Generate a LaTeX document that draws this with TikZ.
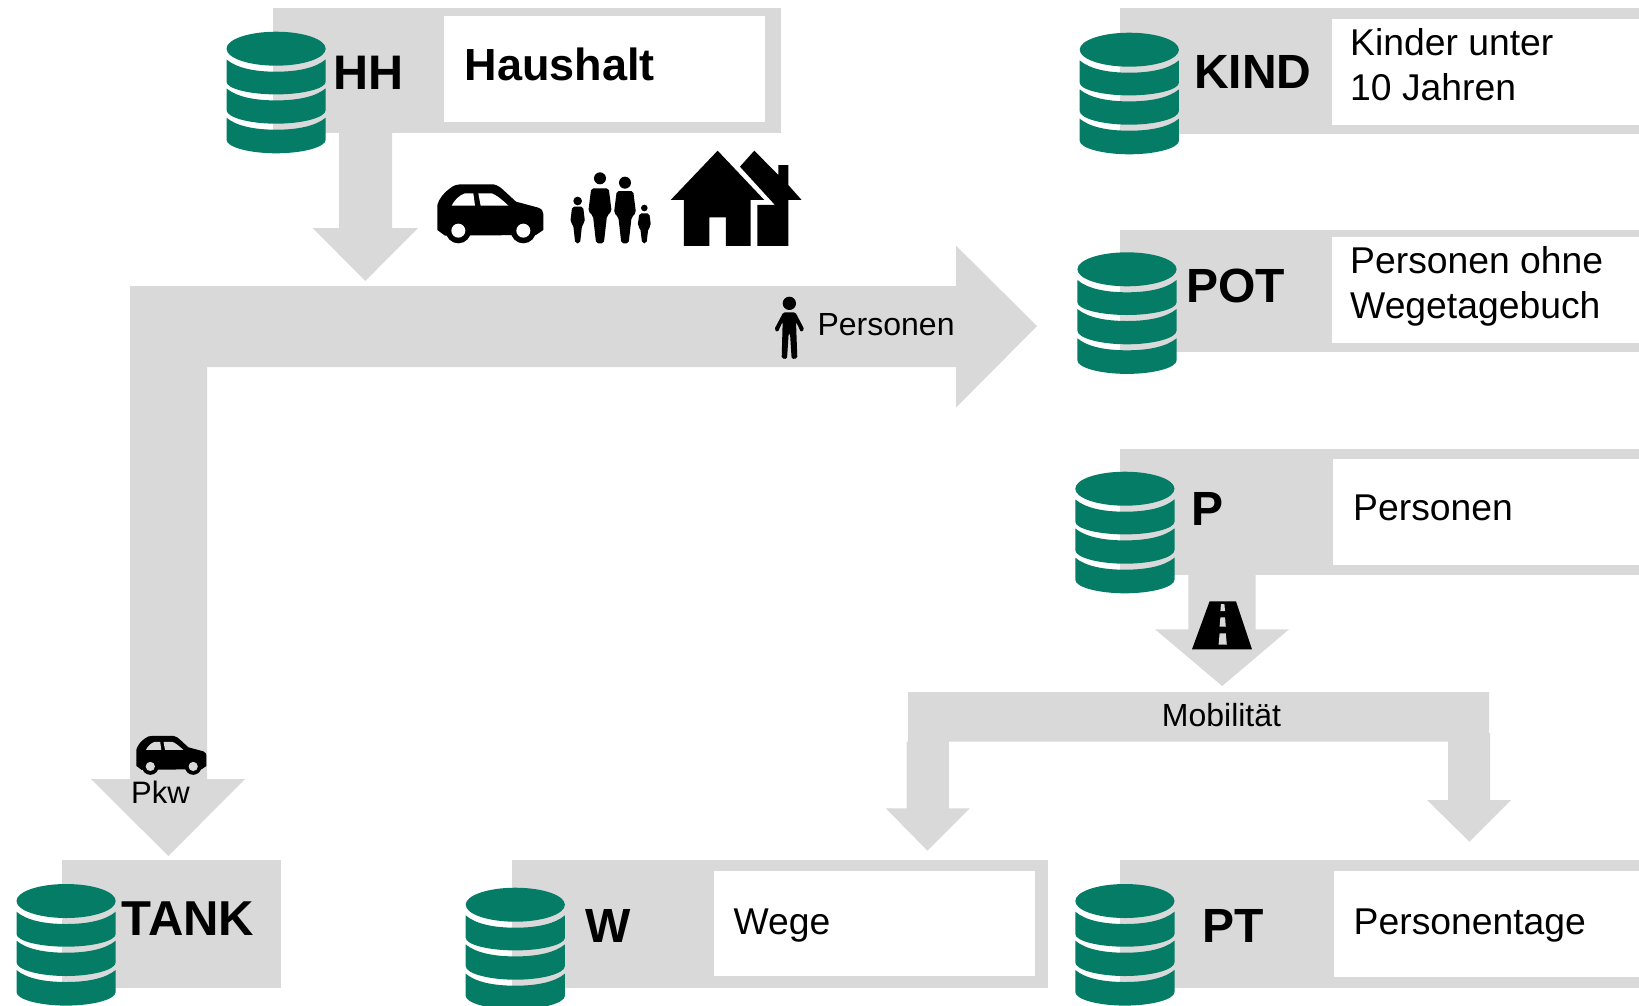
\documentclass[tikz,border=0pt]{standalone}
\usepackage{fontspec}
\setmainfont{Liberation Sans}
\definecolor{panelgray}{HTML}{D9D9D9}
\definecolor{dbgreen}{HTML}{057C66}
\tikzset{
  x=1pt,y=-1pt,
  panel/.style={fill=panelgray,draw=none,inner sep=0,outer sep=0,anchor=north west},
  whitebox/.style={fill=white,draw=none,inner sep=0,outer sep=0,anchor=north west},
  blockarrow/.style={fill=panelgray,draw=none},
  keytext/.style={inner sep=0,anchor=base west,font=\bfseries\fontsize{48}{58}\selectfont},
  desctext/.style={inner sep=0,anchor=base west,font=\fontsize{37.3}{44.8}\selectfont,align=left},
  smalltext/.style={inner sep=0,anchor=base west,font=\fontsize{32}{38}\selectfont},
  icon/.style={fill=black,draw=none},
  db/.pic={
    \fill[dbgreen] (49.6,17) ellipse [x radius=49.6,y radius=17];
    \foreach \t/\b/\st/\sb in {27.7/50/12.3/12.7,56.7/78.3/12/13.7,86/108/12/13.6}{
      \fill[dbgreen] (0,\t) .. controls (10,\t+0.7*\st) and (28,\t+\st) .. (49.6,\t+\st)
        .. controls (71,\t+\st) and (89,\t+0.7*\st) .. (99.2,\t)
        -- (99.2,\b) .. controls (99.2,\b+0.55*\sb) and (76,\b+\sb) .. (49.6,\b+\sb)
        .. controls (23,\b+\sb) and (0,\b+0.55*\sb) .. (0,\b) -- cycle;
    }
  }
}
\newcommand{\caricon}[4]{%
  \begin{scope}[shift={(#1,#2)},scale=#3]
    \fill[icon] (75,317) -- (52,300) -- (52,225) .. controls (58,205) and (70,190) .. (90,175)
      .. controls (100,166) and (112,163) .. (125,163) -- (220,163)
      .. controls (232,165) and (242,172) .. (250,180) -- (288,215) -- (355,233)
      .. controls (366,237) and (370,245) .. (370,252) -- (370,300) -- (348,315) -- cycle;
    \fill[icon] (115,302) circle [radius=38];
    \fill[icon] (310,302) circle [radius=38];
    \fill[#4] (115,302) circle [radius=21];
    \fill[#4] (310,302) circle [radius=21];
    \fill[#4] (95,227) .. controls (102,212) and (118,195) .. (135,190) -- (160,190) -- (165,227) -- cycle;
    \fill[#4] (182,227) -- (175,190) -- (215,190) .. controls (228,194) and (250,212) .. (265,227) -- cycle;
  \end{scope}%
}
\newcommand{\figicon}[6]{% cx top hw bottom headcy headr
  \fill[icon] (#1,#5) circle [radius=#6];
  \fill[icon,rounded corners=2pt] (#1-0.75*#3,#2) -- (#1+0.75*#3,#2) -- (#1+#3,{#2+0.42*(#4-#2)})
    -- (#1+0.6*#3,{#2+0.5*(#4-#2)}) -- (#1+0.33*#3,#4) -- (#1-0.33*#3,#4)
    -- (#1-0.6*#3,{#2+0.5*(#4-#2)}) -- (#1-#3,{#2+0.42*(#4-#2)}) -- cycle;
}
\begin{document}
\begin{tikzpicture}
\useasboundingbox (0,0) rectangle (1639,1005);
\clip (0,0) rectangle (1639,1005);

% block arrows
\fill[blockarrow] (339,133) -- (392,133) -- (392,228) -- (418,228) -- (365.3,281) -- (312.7,228) -- (339,228) -- cycle;
\fill[blockarrow] (130,286) -- (956,286) -- (956,245.6) -- (1037,326) -- (956,407.6) -- (956,367) -- (207,367)
  -- (207,779) -- (245,779) -- (168.4,856) -- (91,779) -- (130,779) -- cycle;
\fill[blockarrow] (1188.3,575) -- (1255.5,575) -- (1255.5,629.3) -- (1289,629.3) -- (1222.2,686) -- (1155,629.3) -- (1188.3,629.3) -- cycle;
\fill[blockarrow] (908,692) -- (1489,692) -- (1489,733) -- (1490,733) -- (1490,800) -- (1511,800) -- (1469.4,841.7)
  -- (1427,800) -- (1448,800) -- (1448,741.7) -- (948.8,741.7) -- (948.8,808.3) -- (969.7,808.3) -- (927.5,850.7)
  -- (885.8,808.3) -- (906.7,808.3) -- (906.7,741.7) -- (908,741.7) -- cycle;

% panels
\node[panel,minimum width=508,minimum height=125] (hhPanel) at (273,8) {};
\node[whitebox,minimum width=321,minimum height=106] (hhBox) at (444,16) {};
\node[panel,minimum width=519,minimum height=126] (kindPanel) at (1120,8) {};
\node[whitebox,minimum width=307,minimum height=106] (kindBox) at (1332,19) {};
\node[panel,minimum width=519,minimum height=121.7] (potPanel) at (1120,230) {};
\node[whitebox,minimum width=307,minimum height=105.7] (potBox) at (1332,237) {};
\node[panel,minimum width=519,minimum height=126] (pPanel) at (1120,449) {};
\node[whitebox,minimum width=306,minimum height=106] (pBox) at (1333,459) {};
\node[panel,minimum width=219,minimum height=127.7] (tankPanel) at (62,860) {};
\node[panel,minimum width=536,minimum height=127.7] (wPanel) at (512,860) {};
\node[whitebox,minimum width=321,minimum height=105] (wBox) at (714,871) {};
\node[panel,minimum width=519,minimum height=127.7] (ptPanel) at (1120,860) {};
\node[whitebox,minimum width=305.5,minimum height=106] (ptBox) at (1333.5,871) {};

% database icons
\pic (dbHH) at (226.5,31.7) {db};
\pic (dbKIND) at (1079.7,32.7) {db};
\pic (dbPOT) at (1077.4,252.3) {db};
\pic (dbP) at (1075.3,471.7) {db};
\pic (dbTANK) at (16.5,884) {db};
\pic (dbW) at (465.7,887.7) {db};
\pic (dbPT) at (1075.3,884) {db};

% key labels
\node[keytext,font=\bfseries\fontsize{48.5}{58}\selectfont] (hhKey) at (333,89) {HH};
\node[keytext,font=\bfseries\fontsize{45}{54}\selectfont] (hhName) at (464.5,80) {Haushalt};
\node[keytext] (kindKey) at (1194,88.3) {KIND};
\node[keytext] (potKey) at (1186,302.7) {POT};
\node[keytext] (pKey) at (1191.5,525) {P};
\node[keytext,font=\bfseries\fontsize{49}{58}\selectfont] (tankKey) at (121.7,935) {TANK};
\node[keytext] (wKey) at (585,942.5) {W};
\node[keytext] (ptKey) at (1202.5,942.5) {PT};

% descriptions
\node[desctext] (kindText) at (1350,100.3) {Kinder unter\\10 Jahren};
\node[desctext] (potText) at (1350,318) {Personen ohne\\Wegetagebuch};
\node[desctext] (pText) at (1353,520) {Personen};
\node[desctext] (wText) at (733.5,934) {Wege};
\node[desctext] (ptText) at (1353.5,934) {Personentage};

% small labels
\node[smalltext] (persLabel) at (817.4,335.5) {Personen};
\node[smalltext,font=\fontsize{31}{37}\selectfont] (pkwLabel) at (131,803.5) {Pkw};
\node[smalltext,anchor=base,font=\fontsize{32}{38}\selectfont] (mobLabel) at (1221.5,726) {Mobilität};

% icons
\caricon{420}{130}{0.3333}{white}
\caricon{125}{700}{0.22}{panelgray}

\begin{scope}[shift={(420,130)},scale=0.3333]
  \figicon{540}{175}{35}{340}{145}{18}
  \figicon{615}{183}{33}{340}{158}{18}
  \figicon{473}{230}{22}{340}{213}{13}
  \figicon{673}{250}{20}{340}{234}{10}
  \fill[icon] (752,210) -- (893,62) -- (1033,210) -- (992,210) -- (992,348) -- (918,348) -- (918,262)
    -- (868,262) -- (868,348) -- (792,348) -- (792,210) -- cycle;
  \fill[icon] (960,110) -- (1003,62) -- (1075,135) -- (1075,105) -- (1105,105) -- (1105,165) -- (1145,210)
    -- (1105,210) -- (1105,348) -- (1012,348) -- (1012,225) -- (1065,225) -- cycle;
\end{scope}

% person
\begin{scope}[shift={(740,280)},scale=0.3333]
  \fill[icon] (148,70) circle [radius=20];
  \fill[icon,rounded corners=1.5pt] (130,97) -- (166,97) -- (193,148) -- (183,157) -- (168,125) -- (172,235)
    -- (155,237) -- (150,160) -- (146,160) -- (141,237) -- (125,235) -- (128,125) -- (113,157) -- (103,148) -- cycle;
\end{scope}

% road
\fill[icon] (1209.6,601.3) -- (1236,601.3) -- (1252,649.3) -- (1192,649.3) -- cycle;
\fill[panelgray] (1221,604) -- (1224.4,604) -- (1225,611) -- (1220.4,611) -- cycle;
\fill[panelgray] (1220.4,617.3) -- (1225,617.3) -- (1225.8,626.7) -- (1219.6,626.7) -- cycle;
\fill[panelgray] (1219.6,633.3) -- (1225.8,633.3) -- (1226.8,644.7) -- (1218.6,644.7) -- cycle;
\end{tikzpicture}
\end{document}
